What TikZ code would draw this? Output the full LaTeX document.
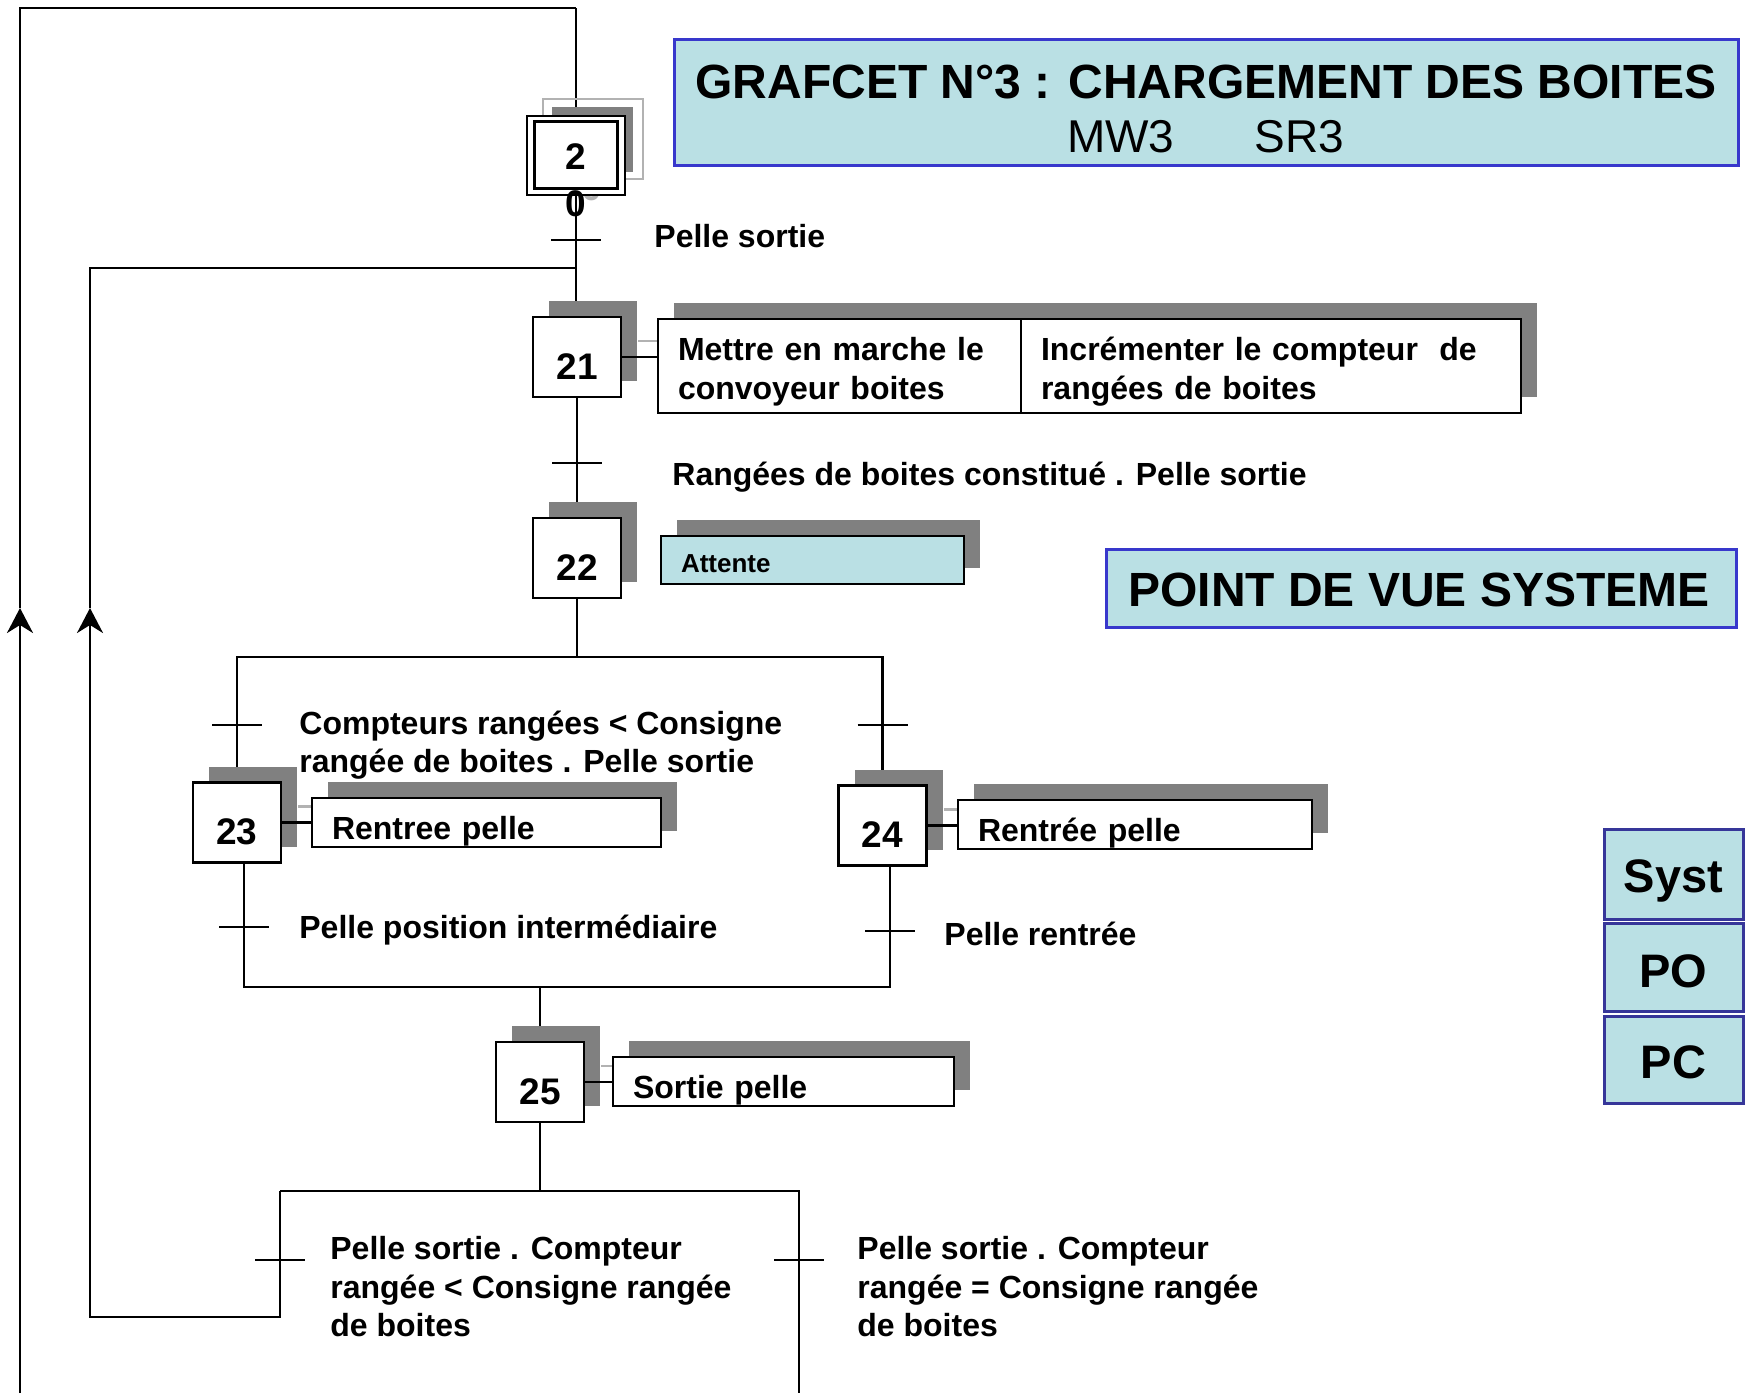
\documentclass[tikz,border=0pt]{standalone}
\usepackage{fontspec}
\setmainfont{Liberation Sans}
\usetikzlibrary{arrows.meta,shadows}
\pgfdeclarelayer{wires}
\pgfsetlayers{wires,main}

\definecolor{shadegray}{HTML}{808080}
\definecolor{shadelight}{HTML}{B2B2B2}
\definecolor{panelfill}{HTML}{BAE0E4}
\definecolor{panelline}{HTML}{3838CC}
\definecolor{tabline}{HTML}{363699}

\newcommand{\lblfont}{\fontsize{16}{19.2}\selectfont\bfseries}
\newcommand{\numfont}{\fontsize{18.5}{20}\selectfont\bfseries}

\begin{document}
\begin{tikzpicture}[x=0.5pt,y=-0.5pt,
  wire/.style={line width=1.3pt},
  tip/.style={-{Stealth[length=12.5pt,width=13pt,inset=4pt]}},
  dropshade/.style={general shadow={fill=shadegray, shadow xshift=8pt, shadow yshift=8pt}},
  stepbox/.style={draw, line width=1.4pt, fill=white, minimum width=44pt, minimum height=40pt,
    inner sep=0pt, font=\numfont, text height=22pt, text depth=0pt, dropshade},
  actbox/.style={draw, line width=1.2pt, fill=white, inner xsep=10pt, inner ysep=0pt,
    align=left, font=\lblfont, dropshade},
  oneline/.style={text height=16.5pt, text depth=0pt},
  twoline/.style={text height=17.3pt, text depth=22.6pt},
  cond/.style={anchor=base west, align=left, font=\lblfont, inner sep=0pt},
  panel/.style={draw=panelline, line width=1.5pt, fill=panelfill, inner sep=0pt},
  tab/.style={draw=tabline, line width=1.5pt, fill=panelfill, minimum width=69.5pt, inner sep=0pt},
  tabtxt/.style={anchor=base, inner sep=0pt, font=\fontsize{23.5}{24}\selectfont\bfseries},
]
\useasboundingbox (0,0) rectangle (1750,1393);

% ---------- initial step 2 ----------
\fill[shadegray] (552,107) rectangle (633,172);
\draw[shadelight, line width=1.2pt] (543,99) rectangle (643,179);
\node[font=\numfont, text=shadelight, inner sep=0pt] (ghost0) at (592,188) {0};
\node[draw, line width=1.4pt, fill=white, minimum width=49pt, minimum height=39.5pt, inner sep=0pt] (s2) at (576,155.5) {};
\draw[line width=1.4pt] ([shift={(9,7)}]s2.north west) rectangle ([shift={(-9,-8)}]s2.south east);
\node[font=\numfont, inner sep=0pt] (n2) at (576,157) {2};
\node[font=\numfont, inner sep=0pt] (n0) at (576,204) {0};

% ---------- steps ----------
\node[stepbox] (s21) at (577,357) {21};
\node[stepbox] (s22) at (577,558) {22};
\node[stepbox] (s23) at (237,822.5) {23};
\node[stepbox] (s24) at (882.5,825.5) {24};
\node[stepbox] (s25) at (540,1082) {25};

% ---------- actions ----------
\node[actbox, twoline, minimum width=181.5pt, minimum height=47pt, text width=161.5pt] (a21a) at (839.5,366)
  {Mettre en marche le\\convoyeur boites};
\node[actbox, twoline, minimum width=250pt, minimum height=47pt, text width=230pt] (a21b) at (1271,366)
  {Incrémenter le compteur\ \ de\\rangées de boites};
\node[actbox, fill=panelfill, font=\fontsize{13}{15}\selectfont\bfseries, minimum width=151.5pt,
  minimum height=24pt, text width=131.5pt, text height=12.6pt, text depth=0pt] (a22) at (812.5,560) {Attente};
\node[actbox, oneline, minimum width=174.5pt, minimum height=24.5pt, text width=154.5pt] (a23) at (486.5,822.5) {Rentree pelle};
\node[actbox, oneline, minimum width=177pt, minimum height=24.5pt, text width=157pt] (a24) at (1135,824.5) {Rentrée pelle};
\node[actbox, oneline, minimum width=170.5pt, minimum height=24.5pt, text width=150.5pt] (a25) at (783.5,1081.5) {Sortie pelle};

% step-to-action links
\foreach \s/\a in {s21/a21a, s23/a23, s24/a24, s25/a25}{
  \draw[wire] (\s.east) -- (\s.east -| \a.west);
}

% ---------- junction points ----------
\coordinate (botA) at (20,1393);
\coordinate (arrA) at (20,608);
\coordinate (cornerTL) at (20,8);
\coordinate (join21) at (576,268);
\coordinate (div1) at (577,657);
\coordinate (div1L) at (237,657);
\coordinate (div1R) at (882.5,657);
\coordinate (c23) at (244,987);
\coordinate (c24) at (890,987);
\coordinate (conv) at (540,987);
\coordinate (div2) at (540,1191);
\coordinate (div2L) at (280,1191);
\coordinate (div2R) at (799,1191);
\coordinate (exitR) at (799,1393);
\coordinate (ret) at (90,1317);
\coordinate (arrB) at (90,608);

\coordinate (t2) at (576,240);
\coordinate (t21) at (577,463);
\coordinate (t22L) at (237,725);
\coordinate (t22R) at (882.5,725);
\coordinate (t23) at (244,927);
\coordinate (t24) at (890,931);
\coordinate (t25L) at (280,1260);
\coordinate (t25R) at (799,1260);

\begin{pgfonlayer}{wires}
  % shadows of the link lines
  \foreach \s/\a in {s21/a21a, s23/a23, s24/a24, s25/a25}{
    \draw[wire, shadelight] ([shift={(16,-16)}]\s.east) -- ([shift={(16,-16)}]\s.east -| \a.west);
  }
  % main sequence
  \draw[wire] (cornerTL -| s2.north) -- (s2.north);
  \draw[wire] (s2.south) -- (s2.south |- s21.north);
  \draw[wire] (s21.south) -- (s22.north);
  \draw[wire] (s22.south) -- (div1);
  \draw[wire] (s23.north) -- (div1L) -- (div1R) -- (s24.north);
  \draw[wire] (c23 |- s23.south) -- (c23) -- (c24) -- (c24 |- s24.south);
  \draw[wire] (conv) -- (s25.north);
  \draw[wire] (s25.south) -- (div2);
  \draw[wire] (div2L) -- (div2R) -- (exitR);
  % return to step 2
  \draw[wire, tip] (botA) -- (arrA);
  \draw[wire] (arrA) -- (cornerTL) -- (cornerTL -| s2.north);
  % return to step 21
  \draw[wire, tip] (div2L) -- (div2L |- ret) -- (ret) -- (arrB);
  \draw[wire] (arrB) -- (ret |- join21) -- (join21);
  % transitions
  \foreach \t in {t2,t21,t22L,t22R,t23,t24,t25L,t25R}{
    \draw[wire] ([xshift=-12.5pt]\t) -- ([xshift=12.5pt]\t);
  }
\end{pgfonlayer}

% ---------- receptivities (anchored on the baseline of their last line) ----------
\node[cond] (r2) at (654,247) {Pelle sortie};
\node[cond] (r21) at (672,485.5) {Rangées de boites constitué . Pelle sortie};
\node[cond] (r22L) at (299,772.5) {Compteurs rangées < Consigne\\rangée de boites . Pelle sortie};
\node[cond] (r23) at (299,938.5) {Pelle position intermédiaire};
\node[cond] (r24) at (944,945.5) {Pelle rentrée};
\node[cond] (r25L) at (330,1336.5) {Pelle sortie . Compteur\\rangée < Consigne rangée\\de boites};
\node[cond] (r25R) at (857,1336.5) {Pelle sortie . Compteur\\rangée = Consigne rangée\\de boites};

% ---------- title panels ----------
\node[panel, minimum width=532pt, minimum height=63pt] (title) at (1206,102) {};
\node[anchor=base, inner sep=0pt, font=\fontsize{24}{24}\selectfont\bfseries] (titletxt) at (1206,98.2)
  {GRAFCET N°3 : CHARGEMENT DES BOITES};
\node[anchor=base, inner sep=0pt, font=\fontsize{23}{23}\selectfont] (subtxt) at (1205.5,152.7)
  {MW3\hspace{40pt}SR3};

\node[panel, minimum width=315pt, minimum height=39pt] (view) at (1421,588) {};
\node[anchor=base, inner sep=0pt, font=\fontsize{24}{24}\selectfont\bfseries] (viewtxt) at (1419,606)
  {POINT DE VUE SYSTEME};

\node[tab, minimum height=45pt] (syst) at (1673.5,874) {};
\node[tab, minimum height=44pt] (po) at (1673.5,967) {};
\node[tab, minimum height=43.5pt] (pc) at (1673.5,1059.5) {};
\node[tabtxt] (systtxt) at (1673.5,892) {Syst};
\node[tabtxt] (potxt) at (1673.5,987) {PO};
\node[tabtxt] (pctxt) at (1673.5,1078) {PC};
\end{tikzpicture}
\end{document}
